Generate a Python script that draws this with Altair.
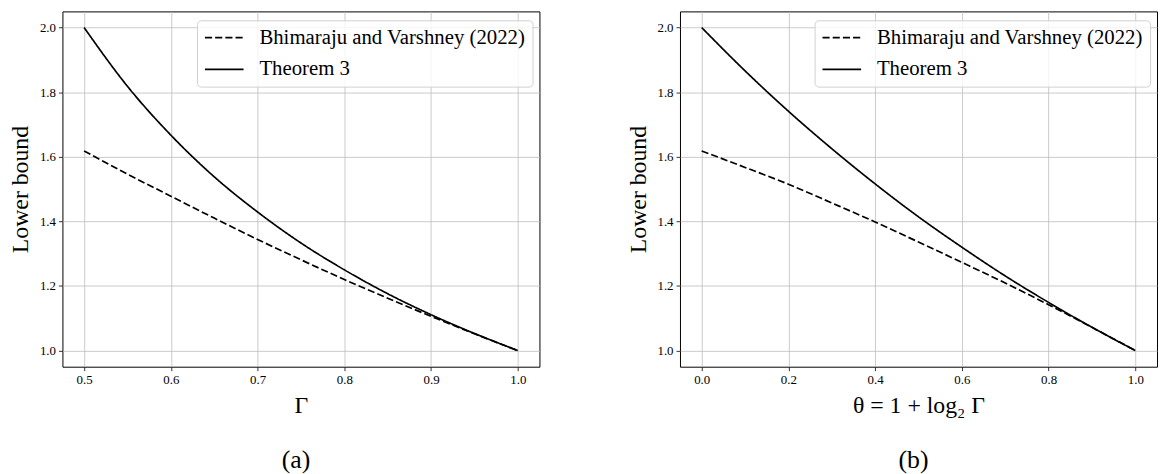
import altair as alt
import pandas as pd

series_names = ["Bhimaraju and Varshney (2022)", "Theorem 3"]

# Panel (a): x = Gamma
gamma = [0.50, 0.55, 0.60, 0.65, 0.70, 0.75, 0.80, 0.85, 0.90, 0.95, 1.00]
bv_gamma = [1.618, 1.546, 1.478, 1.410, 1.344, 1.281, 1.220, 1.162, 1.106, 1.052, 1.000]
thm_gamma = [2.000, 1.818, 1.667, 1.538, 1.429, 1.333, 1.250, 1.176, 1.111, 1.053, 1.000]

# Panel (b): x = theta = 1 + log2(Gamma)
theta = [0.0, 0.1, 0.2, 0.3, 0.4, 0.5, 0.6, 0.7, 0.8, 0.9, 1.0]
bv_theta = [1.618, 1.567, 1.515, 1.457, 1.398, 1.336, 1.273, 1.209, 1.142, 1.072, 1.000]
thm_theta = [2.000, 1.866, 1.741, 1.625, 1.516, 1.414, 1.320, 1.231, 1.149, 1.072, 1.000]

y_ticks = [1.0, 1.2, 1.4, 1.6, 1.8, 2.0]
x_ticks_a = [0.5, 0.6, 0.7, 0.8, 0.9, 1.0]
x_ticks_b = [0.0, 0.2, 0.4, 0.6, 0.8, 1.0]

FONT = "Liberation Serif, Times New Roman, DejaVu Serif, serif"


def long_df(xs, a, b):
    rows = []
    for x, v in zip(xs, a):
        rows.append({"x": x, "y": v, "series": series_names[0]})
    for x, v in zip(xs, b):
        rows.append({"x": x, "y": v, "series": series_names[1]})
    return pd.DataFrame(rows)


def panel(df, xdomain, xticks, xtitle, caption):
    return alt.Chart(df).mark_line(
        stroke="black", strokeWidth=1.7, interpolate="monotone"
    ).encode(
        x=alt.X("x:Q", scale=alt.Scale(domain=xdomain, nice=False, zero=False),
                axis=alt.Axis(values=xticks, format=".1f", title=xtitle)),
        y=alt.Y("y:Q", scale=alt.Scale(domain=[0.95, 2.05], nice=False, zero=False),
                axis=alt.Axis(values=y_ticks, format=".1f", title="Lower bound")),
        strokeDash=alt.StrokeDash(
            "series:N",
            scale=alt.Scale(domain=series_names, range=[[7.2, 3.1], [1, 0]]),
            legend=alt.Legend(
                title=None, orient="none", legendX=136, legendY=9,
                symbolType="stroke", symbolSize=1521, symbolStrokeWidth=1.7,
                symbolStrokeColor="black", labelFontSize=21, labelColor="black",
                labelFont=FONT, clipHeight=21,
                labelOffset=15, rowPadding=10, padding=7,
                strokeColor="#d0d0d0", fillColor="rgba(255,255,255,0.8)",
                cornerRadius=4, labelLimit=400,
            ),
        ),
        order="series:N",
    ).properties(
        width=482, height=359,
        title=alt.TitleParams(caption, orient="bottom", frame="group", offset=30,
                              font=FONT, fontSize=26, fontWeight="normal",
                              color="black", dx=-5),
    )


left = panel(long_df(gamma, bv_gamma, thm_gamma), [0.475, 1.025], x_ticks_a, "Γ", "(a)")
right = panel(long_df(theta, bv_theta, thm_theta), [-0.05, 1.05], x_ticks_b,
              "θ = 1 + log₂ Γ", "(b)")

chart = alt.hconcat(left, right, spacing=86).resolve_scale(
    x="independent", strokeDash="independent"
).resolve_legend(strokeDash="independent").properties(padding=0).configure(
    font=FONT
).configure_view(
    stroke="black", strokeWidth=1
).configure_axis(
    grid=True, gridColor="#bdbdbd", gridWidth=0.8, domain=False,
    tickColor="black", tickSize=4, tickWidth=0.8,
    labelFont=FONT, titleFont=FONT,
    labelFontSize=13, labelColor="black", labelPadding=3,
    titleFontSize=24, titleFontWeight="normal", titleColor="black", titlePadding=7,
)

chart.save("out.html", embed_options={"renderer": "svg", "actions": False})
